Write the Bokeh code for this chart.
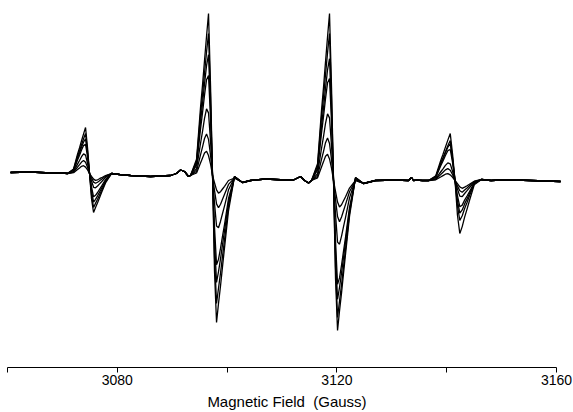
from bokeh.plotting import figure
from bokeh.models import Range1d, FixedTicker
from bokeh.embed import file_html
from bokeh.resources import INLINE

# ---- data: field (Gauss) and signal (arbitrary units) ----
# baseline stretches shared by all spectra
base0_x = [3060.55, 3064.19, 3067.83, 3070.02]
base0_y = [8, 8.5, 7.5, 7.5]
base1_x = [3082.40, 3086.05, 3089.69, 3090.78, 3091.51, 3092.24, 3092.97]
base1_y = [5, 4, 5, 7, 10.5, 9, 4]
base2_x = [3104.26, 3106.99, 3110.64, 3112.09, 3113.37, 3114.10, 3114.83]
base2_y = [0, 1.5, 0.5, 0.5, 4, 0, -2.5]
base3_x = [3127.03, 3130.67, 3133.04, 3133.59, 3133.95, 3134.50, 3135.60]
base3_y = [0, 0.5, 0, 3, 0, 0.3, 0]
base4_x = [3149.80, 3152.53, 3155.26, 3158.00, 3160.73]
base4_y = [0.5, 0.5, 0, -0.5, -1]

# hyperfine line 1 (seven spectra, largest first)
line1_x = [3070.93, 3072.03, 3072.75, 3073.12, 3073.48, 3073.85, 3074.21, 3074.58, 3074.94,
           3075.30, 3075.67, 3076.03, 3076.40, 3076.76, 3077.13, 3077.85, 3078.95, 3080.40]
line1_y = [
    [7, 11.6, 26.3, 32.8, 39.7, 46.6, 53, 32.3, 7, -18.4, -32, -26.9, -22.3, -17.2, -12.1, -2.4, 7, 6],
    [7, 11, 24.2, 29.8, 35.8, 41.8, 47, 29, 7, -14.4, -27, -22.9, -18.8, -14.4, -10, -1.2, 7, 6],
    [7, 10.5, 22.4, 27.7, 33.3, 38.5, 41.7, 26.3, 7, -10.4, -21.7, -18.8, -15.3, -11.6, -7.8, -0.3, 7, 6],
    [7, 10, 20.5, 25.3, 30.4, 34.9, 36.1, 23.5, 7, -6.4, -16.3, -14.8, -12, -8.8, -5.7, 1, 7, 6],
    [7, 9, 16.4, 20, 23.8, 26.6, 25.4, 17, 7, -0.5, -6.8, -7.3, -5.5, -3.4, -1.3, 3.1, 7, 6],
    [7, 8.3, 13.4, 15.8, 18.4, 19.9, 18.2, 13.2, 7, 2.5, -1.6, -2.8, -1.7, -0.2, 1.3, 4.3, 7, 6],
    [7, 7.8, 11, 12.6, 14.2, 14.8, 13.4, 10.6, 7, 4.2, 1.4, 0.1, 0.7, 1.8, 2.8, 5, 7, 6],
]

# hyperfine line 2
line2_x = [3093.33, 3094.43, 3095.15, 3095.52, 3095.88, 3096.25, 3096.61, 3096.98, 3097.34,
           3097.70, 3098.07, 3098.43, 3098.80, 3099.16, 3099.53, 3100.25, 3101.35, 3102.80]
line2_y = [
    [5, 21.2, 73, 95.7, 120, 144.3, 167, 94.1, 5, -90.6, -142, -122.9, -105.3, -86.1, -67, -30.3, 4, -2],
    [5, 19.2, 66, 86, 107.2, 128.5, 147, 83.1, 5, -75.6, -123, -107.6, -92.3, -75.6, -59, -25.7, 4, -2],
    [5, 17.2, 58.7, 77, 96.5, 114.8, 125.8, 72.1, 5, -59.8, -101.9, -91.1, -78.2, -64.1, -50.1, -22, 4, -2],
    [5, 15.3, 51.4, 67.8, 85.3, 100.8, 104.9, 61.7, 5, -46.5, -84.2, -78.7, -67.7, -55.7, -43.8, -18, 3.5, -2],
    [5, 11.8, 37, 49.2, 62.1, 71.6, 67.6, 39, 5, -22.5, -45.6, -47.3, -40.7, -33, -25.3, -9.3, 3, -2],
    [5, 9.2, 25.6, 33.6, 42, 46.6, 41.1, 25.2, 5, -9.9, -23.4, -27.3, -23.7, -18.8, -13.8, -3.9, 2.5, -2],
    [5, 7.5, 17.5, 22.5, 27.5, 29.3, 25, 16.3, 5, -2.2, -9.4, -12.6, -11.2, -8.5, -5.8, 0, 2.5, -2],
]

# hyperfine line 3
line3_x = [3115.37, 3116.47, 3117.19, 3117.56, 3117.92, 3118.29, 3118.65, 3119.02, 3119.38,
           3119.74, 3120.11, 3120.47, 3120.84, 3121.20, 3121.57, 3122.29, 3123.39, 3124.84]
line3_y = [
    [0, 16.7, 70.1, 93.5, 118.6, 143.6, 167, 91.9, 0, -97.5, -150, -130.5, -112.5, -93, -73.5, -36, 3, -3],
    [0, 14.7, 63.2, 83.8, 105.8, 127.9, 147, 80.9, 0, -86.3, -137, -120.6, -104.1, -86.3, -68.5, -32.9, 3, -3],
    [0, 12.3, 54.1, 72.6, 92.3, 110.7, 121.8, 67.7, 0, -72, -118.8, -106.8, -92.4, -76.8, -61.2, -30, 2.5, -3],
    [0, 10.5, 47.3, 64, 81.9, 97.7, 101.9, 57.8, 0, -59.9, -103.8, -97.4, -84.5, -70.6, -56.7, -26.8, 2, -3],
    [0, 6.8, 32, 44.2, 57.1, 66.6, 62.6, 34, 0, -33.5, -61.6, -63.7, -55.6, -46.2, -36.9, -17.4, 1, -3],
    [0, 4.3, 21.1, 29.2, 37.8, 42.6, 37, 20.6, 0, -18.9, -36.1, -41.2, -36.5, -30.2, -23.9, -11.3, 0, -3],
    [0, 2.7, 13.5, 18.9, 24.3, 26.2, 21.6, 12.2, 0, -10.8, -21.6, -26.5, -24.3, -20.3, -16.2, -7.6, 0, -3],
]

# hyperfine line 4
line4_x = [3136.70, 3138.01, 3138.89, 3139.32, 3139.76, 3140.20, 3140.64, 3141.07, 3141.51,
           3141.95, 3142.38, 3142.82, 3143.26, 3143.70, 3144.13, 3145.01, 3146.32, 3148.07]
line4_y = [
    [0, 4.7, 19.7, 26.3, 33.4, 40.4, 47, 25.9, 0, -34.5, -53, -46.1, -36.6, -28.6, -20.3, -4.2, 1, 0],
    [0, 4, 17.2, 22.8, 28.8, 34.8, 40, 22, 0, -25.2, -40, -35.2, -28, -21.9, -15.6, -3.2, 1, 0],
    [0, 3.7, 16.3, 21.8, 27.8, 33.3, 36.6, 20.4, 0, -19.8, -32.7, -29.4, -23.4, -18.4, -13.1, -2.7, 1, 0],
    [0, 3.2, 14.4, 19.5, 25, 29.8, 31, 17.6, 0, -15.1, -26.2, -24.6, -19.6, -15.5, -11.2, -2.2, 1, 0],
    [0, 1.8, 8.5, 11.7, 15.1, 17.6, 16.6, 9, 0, -8.5, -15.6, -16.2, -13, -10.2, -7.3, -1.5, 1, 0],
    [0, 1.2, 5.9, 8.2, 10.6, 11.9, 10.3, 5.8, 0, -5.4, -10.3, -11.8, -9.6, -7.5, -5.3, -1.1, 1, 0],
    [0, 0.7, 3.5, 4.9, 6.3, 6.8, 5.6, 3.2, 0, -3.2, -6.4, -7.8, -6.6, -5.2, -3.7, -0.7, 1, 0],
]

major_ticks = [3080, 3120, 3160]
minor_ticks = [3060, 3100, 3140]
axis_title = "Magnetic Field\u00a0 (Gauss)"

# ---- figure ----
p = figure(width=573, height=412, output_backend="svg", toolbar_location=None,
           x_range=Range1d(3058.72, 3163.09), y_range=Range1d(-187, 180),
           min_border_left=0, min_border_right=0, min_border_top=0, min_border_bottom=45)
p.yaxis.visible = False
p.grid.visible = False
p.outline_line_color = None
p.background_fill_color = "white"
p.border_fill_color = "white"

for k in range(7):
    xs = base0_x + line1_x + base1_x + line2_x + base2_x + line3_x + base3_x + line4_x + base4_x
    ys = (base0_y + line1_y[k] + base1_y + line2_y[k] + base2_y + line3_y[k]
          + base3_y + line4_y[k] + base4_y)
    p.line(xs, ys, line_color="black", line_width=1.3)

ax = p.xaxis[0]
ax.ticker = FixedTicker(ticks=major_ticks, minor_ticks=minor_ticks)
ax.bounds = (3060, 3160)
ax.axis_line_color = "black"
ax.axis_line_width = 1
ax.major_tick_in = 0
ax.major_tick_out = 5
ax.minor_tick_in = 0
ax.minor_tick_out = 5
ax.major_tick_line_color = "black"
ax.minor_tick_line_color = "black"
ax.major_label_standoff = 2
ax.major_label_text_font = "Liberation Sans"
ax.major_label_text_font_size = "14px"
ax.major_label_text_color = "black"
ax.axis_label = axis_title
ax.axis_label_standoff = 5
ax.axis_label_text_font = "Liberation Sans"
ax.axis_label_text_font_size = "15px"
ax.axis_label_text_font_style = "normal"
ax.axis_label_text_color = "black"

open("out.html", "w").write(file_html(p, INLINE))
